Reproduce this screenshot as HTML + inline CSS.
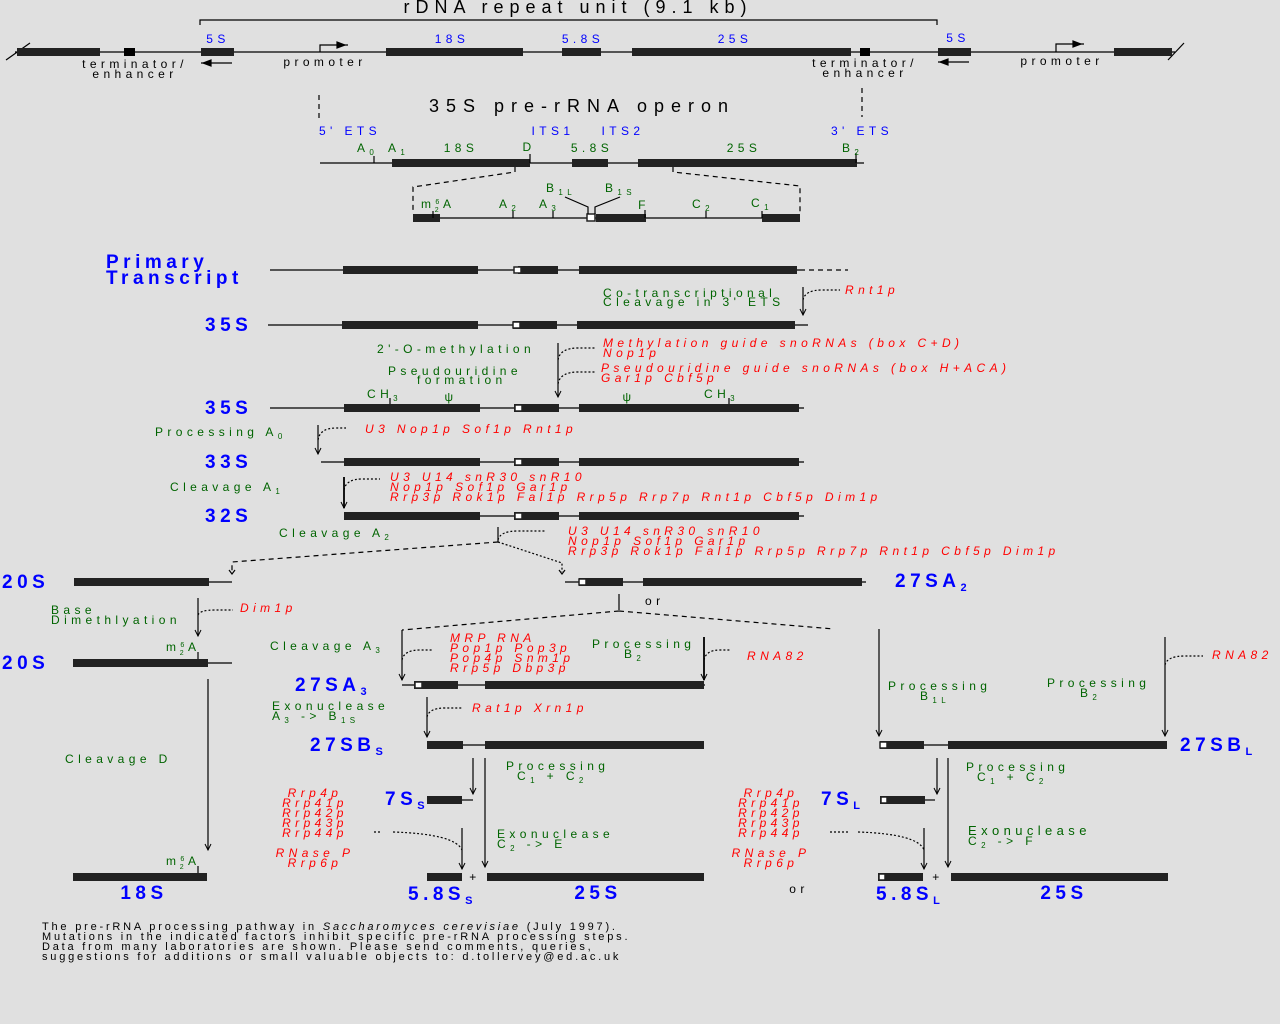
<!DOCTYPE html>
<html><head><meta charset="utf-8"><style>
html,body{margin:0;padding:0;background:#e0e0e0;}
svg{display:block;font-family:"Liberation Sans",sans-serif;}
.k{fill:#000}.b{fill:#0000ff}.g{fill:#006400}.r{fill:#ff0000;font-style:italic}
.s{font-size:12px;letter-spacing:4.4px}
.big{font-size:19px;font-weight:bold;letter-spacing:4.5px}
.bar{fill:#222}
line,path,polyline{stroke:#000;fill:none;stroke-width:1.2}
.d{stroke-dasharray:5,4}
.dt{stroke-dasharray:2,2}
.box{fill:#fff;stroke:#222;stroke-width:1.5}
</style></head><body>
<svg width="1280" height="1024" viewBox="0 0 1280 1024">
<defs><marker id="a" markerWidth="10" markerHeight="10" refX="8" refY="4" orient="auto" markerUnits="userSpaceOnUse"><path d="M2,1 L8,4 L2,7" style="stroke:#000;fill:none;stroke-width:1"/></marker></defs>

<!-- top rDNA -->
<text x="578" y="13" class="k" style="font-size:18px;letter-spacing:6px" text-anchor="middle">rDNA repeat unit (9.1 kb)</text>
<polyline points="200,25 200,20 937,20 937,25"/>
<line x1="15" y1="52" x2="1175" y2="52"/>
<line x1="6" y1="60" x2="30" y2="43"/><line x1="1168" y1="60" x2="1184" y2="43"/>
<rect class="bar" x="17" y="48" width="83" height="8"/>
<rect class="bar" x="124" y="48" width="11" height="8" style="fill:#000"/>
<rect class="bar" x="201" y="48" width="33" height="8"/>
<rect class="bar" x="386" y="48" width="137" height="8"/>
<rect class="bar" x="562" y="48" width="39" height="8"/>
<rect class="bar" x="632" y="48" width="219" height="8"/>
<rect class="bar" x="860" y="48" width="10" height="8" style="fill:#000"/>
<rect class="bar" x="938" y="48" width="33" height="8"/>
<rect class="bar" x="1114" y="48" width="58" height="8"/>
<text x="218" y="43" class="b s" text-anchor="middle">5S</text>
<text x="452" y="43" class="b s" text-anchor="middle">18S</text>
<text x="583" y="43" class="b s" text-anchor="middle">5.8S</text>
<text x="735" y="43" class="b s" text-anchor="middle">25S</text>
<text x="958" y="42" class="b s" text-anchor="middle">5S</text>
<text x="135" y="68" class="k s" text-anchor="middle">terminator/</text>
<text x="135" y="78" class="k s" text-anchor="middle">enhancer</text>
<text x="865" y="67" class="k s" text-anchor="middle">terminator/</text>
<text x="865" y="77" class="k s" text-anchor="middle">enhancer</text>
<text x="325" y="66" class="k s" text-anchor="middle">promoter</text>
<text x="1062" y="65" class="k s" text-anchor="middle">promoter</text>
<line x1="201" y1="63" x2="232" y2="63"/><path d="M203,63 l8,-3 v6z" style="fill:#000"/>
<line x1="938" y1="62" x2="969" y2="62"/><path d="M940,62 l8,-3 v6z" style="fill:#000"/>
<polyline points="320,52 320,45 348,45"/><path d="M345,45 l-8,-3 v6z" style="fill:#000"/>
<polyline points="1056,52 1056,44 1084,44"/><path d="M1081,44 l-8,-3 v6z" style="fill:#000"/>

<!-- operon -->
<line class="d" x1="319" y1="95" x2="319" y2="120"/>
<line class="d" x1="862" y1="88" x2="862" y2="117"/>
<text x="582" y="112" class="k" style="font-size:18px;letter-spacing:7px" text-anchor="middle">35S pre-rRNA operon</text>
<text x="350" y="135" class="b s" text-anchor="middle">5' ETS</text>
<text x="553" y="135" class="b s" text-anchor="middle">ITS1</text>
<text x="623" y="135" class="b s" text-anchor="middle">ITS2</text>
<text x="862" y="135" class="b s" text-anchor="middle">3' ETS</text>
<line x1="320" y1="163" x2="864" y2="163"/>
<rect class="bar" x="392" y="159" width="138" height="8"/>
<rect class="bar" x="572" y="159" width="36" height="8"/>
<rect class="bar" x="638" y="159" width="219" height="8"/>
<line x1="374" y1="156" x2="374" y2="163"/><line x1="530" y1="154" x2="530" y2="163"/><line x1="856" y1="153" x2="856" y2="163"/>
<text x="357" y="152" class="g s">A<tspan style="font-size:8px" dy="3">0</tspan></text>
<text x="388" y="152" class="g s">A<tspan style="font-size:8px" dy="3">1</tspan></text>
<text x="461" y="152" class="g s" text-anchor="middle">18S</text>
<text x="529" y="151" class="g s" text-anchor="middle">D</text>
<text x="592" y="152" class="g s" text-anchor="middle">5.8S</text>
<text x="744" y="152" class="g s" text-anchor="middle">25S</text>
<text x="842" y="152" class="g s">B<tspan style="font-size:8px" dy="3">2</tspan></text>
<polyline class="d" points="515,167 515,172 413,187 413,212"/>
<polyline class="d" points="673,167 673,172 800,186 800,212"/>
<line x1="413" y1="218" x2="800" y2="218"/>
<rect class="bar" x="413" y="214" width="27" height="8"/>
<rect class="bar" x="596" y="214" width="50" height="8"/>
<rect class="bar" x="762" y="214" width="38" height="8"/>
<rect class="box" x="587" y="214" width="8" height="7"/>
<line x1="433" y1="211" x2="433" y2="218"/><line x1="513" y1="211" x2="513" y2="218"/><line x1="553" y1="211" x2="553" y2="218"/><line x1="645" y1="210" x2="645" y2="218"/><line x1="706" y1="211" x2="706" y2="218"/><line x1="762" y1="211" x2="762" y2="218"/>
<polyline points="588,214 588,207 565,197"/><polyline points="595,214 595,207 620,197"/>
<text x="421" y="208" class="g s">m<tspan style="font-size:7px" dy="-4">6</tspan><tspan style="font-size:7px" dx="-9" dy="8">2</tspan><tspan dy="-4">A</tspan></text>
<text x="499" y="208" class="g s">A<tspan style="font-size:8px" dy="3">2</tspan></text>
<text x="539" y="208" class="g s">A<tspan style="font-size:8px" dy="3">3</tspan></text>
<text x="546" y="192" class="g s">B<tspan style="font-size:8px" dy="3">1L</tspan></text>
<text x="605" y="192" class="g s">B<tspan style="font-size:8px" dy="3">1S</tspan></text>
<text x="644" y="209" class="g s" text-anchor="middle">F</text>
<text x="692" y="208" class="g s">C<tspan style="font-size:8px" dy="3">2</tspan></text>
<text x="751" y="207" class="g s">C<tspan style="font-size:8px" dy="3">1</tspan></text>

<!-- Primary transcript -->
<text x="106" y="268" class="b big">Primary</text>
<text x="106" y="284" class="b big">Transcript</text>
<line x1="270" y1="270" x2="800" y2="270"/><line class="d" x1="800" y1="270" x2="848" y2="270"/>
<rect class="bar" x="343" y="266" width="135" height="8"/><rect class="bar" x="518" y="266" width="40" height="8"/><rect class="bar" x="579" y="266" width="218" height="8"/><rect class="box" x="514" y="267" width="7" height="6"/>

<text x="603" y="297" class="g s">Co-transcriptional</text>
<text x="603" y="306" class="g s">Cleavage in 3' ETS</text>
<line x1="803" y1="287" x2="803" y2="315" marker-end="url(#a)"/>
<path class="dt" d="M803,300 Q805,290 822,290 H840"/>
<text x="845" y="294" class="r s">Rnt1p</text>

<text x="205" y="331" class="b big">35S</text>
<line x1="268" y1="325" x2="808" y2="325"/>
<rect class="bar" x="342" y="321" width="136" height="8"/><rect class="bar" x="513" y="321" width="44" height="8"/><rect class="bar" x="577" y="321" width="218" height="8"/><rect class="box" x="513" y="322" width="7" height="6"/>

<text x="377" y="353" class="g s">2'-O-methylation</text>
<text x="388" y="375" class="g s">Pseudouridine</text>
<text x="417" y="384" class="g s">formation</text>
<line x1="558" y1="343" x2="558" y2="397" marker-end="url(#a)"/>
<path class="dt" d="M558,360 Q560,348 578,348 H596"/>
<path class="dt" d="M558,384 Q560,372 578,372 H596"/>
<text x="603" y="347" class="r s">Methylation guide snoRNAs (box C+D)</text>
<text x="603" y="357" class="r s">Nop1p</text>
<text x="601" y="372" class="r s">Pseudouridine guide snoRNAs (box H+ACA)</text>
<text x="601" y="382" class="r s">Gar1p Cbf5p</text>

<text x="205" y="414" class="b big">35S</text>
<line x1="270" y1="408" x2="804" y2="408"/>
<rect class="bar" x="344" y="404" width="136" height="8"/><rect class="bar" x="514" y="404" width="45" height="8"/><rect class="bar" x="579" y="404" width="220" height="8"/><rect class="box" x="515" y="405" width="7" height="6"/>
<line x1="390" y1="398" x2="390" y2="404"/><line x1="729" y1="398" x2="729" y2="404"/>
<text x="367" y="398" class="g s">CH<tspan style="font-size:8px" dy="3">3</tspan></text>
<text x="704" y="398" class="g s">CH<tspan style="font-size:8px" dy="3">3</tspan></text>
<text x="451" y="401" class="g s" text-anchor="middle">ψ</text>
<text x="629" y="401" class="g s" text-anchor="middle">ψ</text>

<text x="155" y="436" class="g s">Processing A<tspan style="font-size:8px" dy="3">0</tspan></text>
<line x1="318" y1="425" x2="318" y2="454" marker-end="url(#a)"/>
<path class="dt" d="M318,440 Q320,428 336,428 H346"/>
<text x="365" y="433" class="r s">U3  Nop1p Sof1p Rnt1p</text>

<text x="205" y="468" class="b big">33S</text>
<line x1="321" y1="462" x2="804" y2="462"/>
<rect class="bar" x="344" y="458" width="136" height="8"/><rect class="bar" x="514" y="458" width="45" height="8"/><rect class="bar" x="579" y="458" width="220" height="8"/><rect class="box" x="515" y="459" width="7" height="6"/>

<text x="170" y="491" class="g s">Cleavage A<tspan style="font-size:8px" dy="3">1</tspan></text>
<line x1="344" y1="477" x2="344" y2="508" marker-end="url(#a)" style="stroke-width:1.8"/>
<path class="dt" d="M344,490 Q346,479 362,479 H380"/>
<text x="390" y="481" class="r s">U3  U14  snR30 snR10</text>
<text x="390" y="491" class="r s">Nop1p Sof1p Gar1p</text>
<text x="390" y="501" class="r s">Rrp3p Rok1p Fal1p Rrp5p Rrp7p Rnt1p Cbf5p Dim1p</text>

<text x="205" y="522" class="b big">32S</text>
<line x1="344" y1="516" x2="804" y2="516"/>
<rect class="bar" x="344" y="512" width="136" height="8"/><rect class="bar" x="514" y="512" width="45" height="8"/><rect class="bar" x="579" y="512" width="220" height="8"/><rect class="box" x="515" y="513" width="7" height="6"/>

<text x="279" y="537" class="g s">Cleavage A<tspan style="font-size:8px" dy="3">2</tspan></text>
<line x1="498" y1="527" x2="498" y2="542"/>
<path class="dt" d="M498,540 Q500,531 518,531 H545"/>
<text x="568" y="535" class="r s">U3  U14  snR30 snR10</text>
<text x="568" y="545" class="r s">Nop1p Sof1p Gar1p</text>
<text x="568" y="555" class="r s">Rrp3p Rok1p Fal1p Rrp5p Rrp7p Rnt1p Cbf5p Dim1p</text>
<polyline class="d" points="498,542 232,562 232,572"/>
<path d="M229,570 l3,4 l3,-4"/>
<polyline class="dt" points="498,542 562,563 562,572"/>
<path d="M559,570 l3,4 l3,-4"/>

<!-- 20S / 27SA2 -->
<text x="2" y="588" class="b big">20S</text>
<rect class="bar" x="74" y="578" width="135" height="8"/><line x1="209" y1="582" x2="232" y2="582"/>
<text x="895" y="587" class="b big">27SA<tspan style="font-size:11px" dy="4">2</tspan></text>
<line x1="565" y1="582" x2="866" y2="582"/>
<rect class="bar" x="579" y="578" width="44" height="8"/><rect class="bar" x="643" y="578" width="219" height="8"/><rect class="box" x="579" y="579" width="7" height="6"/>
<line x1="619" y1="594" x2="619" y2="610"/>
<text x="645" y="605" class="k s">or</text>
<polyline class="d" points="619,611 402,630"/>
<polyline class="d" points="619,611 834,629"/>

<text x="51" y="614" class="g s">Base</text>
<text x="51" y="624" class="g s">Dimethlyation</text>
<line x1="198" y1="598" x2="198" y2="636" marker-end="url(#a)"/>
<path class="dt" d="M198,615 Q200,610 215,610 H233"/>
<text x="240" y="612" class="r s">Dim1p</text>

<text x="2" y="669" class="b big">20S</text>
<rect class="bar" x="73" y="659" width="135" height="8"/><line x1="208" y1="663" x2="232" y2="663"/>
<line x1="198" y1="652" x2="198" y2="659"/>
<text x="166" y="651" class="g s">m<tspan style="font-size:7px" dy="-4">6</tspan><tspan style="font-size:7px" dx="-9" dy="8">2</tspan><tspan dy="-4">A</tspan></text>

<text x="270" y="650" class="g s">Cleavage A<tspan style="font-size:8px" dy="3">3</tspan></text>
<line x1="402" y1="630" x2="402" y2="680" marker-end="url(#a)"/>
<path class="dt" d="M402,660 Q404,650 420,650 H432"/>
<text x="450" y="642" class="r s">MRP RNA</text>
<text x="450" y="652" class="r s">Pop1p Pop3p</text>
<text x="450" y="662" class="r s">Pop4p Snm1p</text>
<text x="450" y="672" class="r s">Rrp5p Dbp3p</text>
<text x="592" y="648" class="g s">Processing</text>
<text x="624" y="658" class="g s">B<tspan style="font-size:8px" dy="3">2</tspan></text>
<line x1="704" y1="637" x2="704" y2="680" marker-end="url(#a)" style="stroke-width:1.8"/>
<path class="dt" d="M704,660 Q706,650 720,650 H730"/>
<text x="747" y="660" class="r s">RNA82</text>

<text x="295" y="691" class="b big">27SA<tspan style="font-size:11px" dy="4">3</tspan></text>
<line x1="402" y1="685" x2="705" y2="685"/>
<rect class="bar" x="414" y="681" width="44" height="8"/><rect class="bar" x="485" y="681" width="219" height="8"/><rect class="box" x="415" y="682" width="7" height="6"/>

<text x="272" y="710" class="g s">Exonuclease</text>
<text x="272" y="720" class="g s">A<tspan style="font-size:8px" dy="3">3</tspan><tspan dy="-3"> -&gt; B</tspan><tspan style="font-size:8px" dy="3">1S</tspan></text>
<line x1="427" y1="697" x2="427" y2="737" marker-end="url(#a)"/>
<path class="dt" d="M427,717 Q429,708 445,708 H462"/>
<text x="472" y="712" class="r s">Rat1p Xrn1p</text>

<text x="310" y="751" class="b big">27SB<tspan style="font-size:11px" dy="4">S</tspan></text>
<rect class="bar" x="427" y="741" width="36" height="8"/><line x1="463" y1="745" x2="485" y2="745"/><rect class="bar" x="485" y="741" width="219" height="8"/>

<text x="65" y="763" class="g s">Cleavage D</text>
<line x1="208" y1="679" x2="208" y2="850" marker-end="url(#a)"/>

<!-- right branch -->
<line x1="879" y1="629" x2="879" y2="736" marker-end="url(#a)"/>
<text x="888" y="690" class="g s">Processing</text>
<text x="920" y="700" class="g s">B<tspan style="font-size:8px" dy="3">1L</tspan></text>
<text x="1047" y="687" class="g s">Processing</text>
<text x="1080" y="697" class="g s">B<tspan style="font-size:8px" dy="3">2</tspan></text>
<line x1="1165" y1="637" x2="1165" y2="736" marker-end="url(#a)"/>
<path class="dt" d="M1165,665 Q1167,656 1185,656 H1203"/>
<text x="1212" y="659" class="r s">RNA82</text>
<text x="1180" y="751" class="b big">27SB<tspan style="font-size:11px" dy="4">L</tspan></text>
<line x1="887" y1="745" x2="948" y2="745"/>
<rect class="bar" x="880" y="741" width="44" height="8"/><rect class="bar" x="948" y="741" width="219" height="8"/><rect class="box" x="880" y="742" width="7" height="6"/>

<!-- 7S S -->
<line x1="473" y1="758" x2="473" y2="794" marker-end="url(#a)"/>
<line x1="485" y1="758" x2="485" y2="867" marker-end="url(#a)"/>
<text x="506" y="770" class="g s">Processing</text>
<text x="517" y="780" class="g s">C<tspan style="font-size:8px" dy="3">1</tspan><tspan dy="-3"> + C</tspan><tspan style="font-size:8px" dy="3">2</tspan></text>
<text x="385" y="805" class="b big">7S<tspan style="font-size:11px" dy="4">S</tspan></text>
<rect class="bar" x="427" y="796" width="35" height="8"/><line x1="462" y1="800" x2="473" y2="800"/>
<g class="r s" text-anchor="middle"><text x="315" y="797">Rrp4p</text><text x="315" y="807">Rrp41p</text><text x="315" y="817">Rrp42p</text><text x="315" y="827">Rrp43p</text><text x="315" y="837">Rrp44p</text><text x="315" y="857">RNase P</text><text x="315" y="867">Rrp6p</text></g>
<path class="dt" d="M374,832 H382 M393,832 Q455,834 462,850"/>
<line x1="462" y1="828" x2="462" y2="869" marker-end="url(#a)"/>
<text x="497" y="838" class="g s">Exonuclease</text>
<text x="497" y="848" class="g s">C<tspan style="font-size:8px" dy="3">2</tspan><tspan dy="-3"> -&gt; E</tspan></text>

<!-- 7S L -->
<line x1="937" y1="758" x2="937" y2="794" marker-end="url(#a)"/>
<line x1="948" y1="758" x2="948" y2="867" marker-end="url(#a)"/>
<text x="966" y="771" class="g s">Processing</text>
<text x="977" y="781" class="g s">C<tspan style="font-size:8px" dy="3">1</tspan><tspan dy="-3"> + C</tspan><tspan style="font-size:8px" dy="3">2</tspan></text>
<text x="821" y="805" class="b big">7S<tspan style="font-size:11px" dy="4">L</tspan></text>
<rect class="bar" x="880" y="796" width="45" height="8"/><line x1="925" y1="800" x2="935" y2="800"/><rect class="box" x="881" y="797" width="6" height="6"/>
<g class="r s" text-anchor="middle"><text x="771" y="797">Rrp4p</text><text x="771" y="807">Rrp41p</text><text x="771" y="817">Rrp42p</text><text x="771" y="827">Rrp43p</text><text x="771" y="837">Rrp44p</text><text x="771" y="857">RNase P</text><text x="771" y="867">Rrp6p</text></g>
<path class="dt" d="M830,832 H848 M858,832 Q918,834 924,850"/>
<line x1="924" y1="828" x2="924" y2="869" marker-end="url(#a)"/>
<text x="968" y="835" class="g" style="font-size:13px;letter-spacing:4.4px">Exonuclease</text>
<text x="968" y="845" class="g s">C<tspan style="font-size:8px" dy="3">2</tspan><tspan dy="-3"> -&gt; F</tspan></text>

<!-- bottom products -->
<rect class="bar" x="73" y="873" width="134" height="8"/><line x1="198" y1="866" x2="198" y2="873"/>
<text x="166" y="865" class="g s">m<tspan style="font-size:7px" dy="-4">6</tspan><tspan style="font-size:7px" dx="-9" dy="8">2</tspan><tspan dy="-4">A</tspan></text>
<text x="144" y="899" class="b big" text-anchor="middle">18S</text>
<rect class="bar" x="427" y="873" width="35" height="8"/><text x="475" y="881" class="k s" text-anchor="middle">+</text><rect class="bar" x="487" y="873" width="217" height="8"/>
<text x="408" y="900" class="b big">5.8S<tspan style="font-size:11px" dy="4">S</tspan></text>
<text x="598" y="899" class="b big" text-anchor="middle">25S</text>
<rect class="bar" x="878" y="873" width="45" height="8"/><rect class="box" x="879" y="874" width="6" height="6"/><text x="938" y="881" class="k s" text-anchor="middle">+</text><rect class="bar" x="951" y="873" width="217" height="8"/>
<text x="876" y="900" class="b big">5.8S<tspan style="font-size:11px" dy="4">L</tspan></text>
<text x="1064" y="899" class="b big" text-anchor="middle">25S</text>
<text x="799" y="893" class="k s" text-anchor="middle">or</text>

<g class="k" style="font-size:11px;letter-spacing:2.8px">
<text x="42" y="930">The pre-rRNA processing pathway in <tspan style="font-style:italic">Saccharomyces cerevisiae</tspan> (July 1997).</text>
<text x="42" y="940">Mutations in the indicated factors inhibit specific pre-rRNA processing steps.</text>
<text x="42" y="950">Data from many laboratories are shown. Please send comments, queries,</text>
<text x="42" y="960">suggestions for additions or small valuable objects to: d.tollervey@ed.ac.uk</text>
</g>
</svg>
</body></html>
